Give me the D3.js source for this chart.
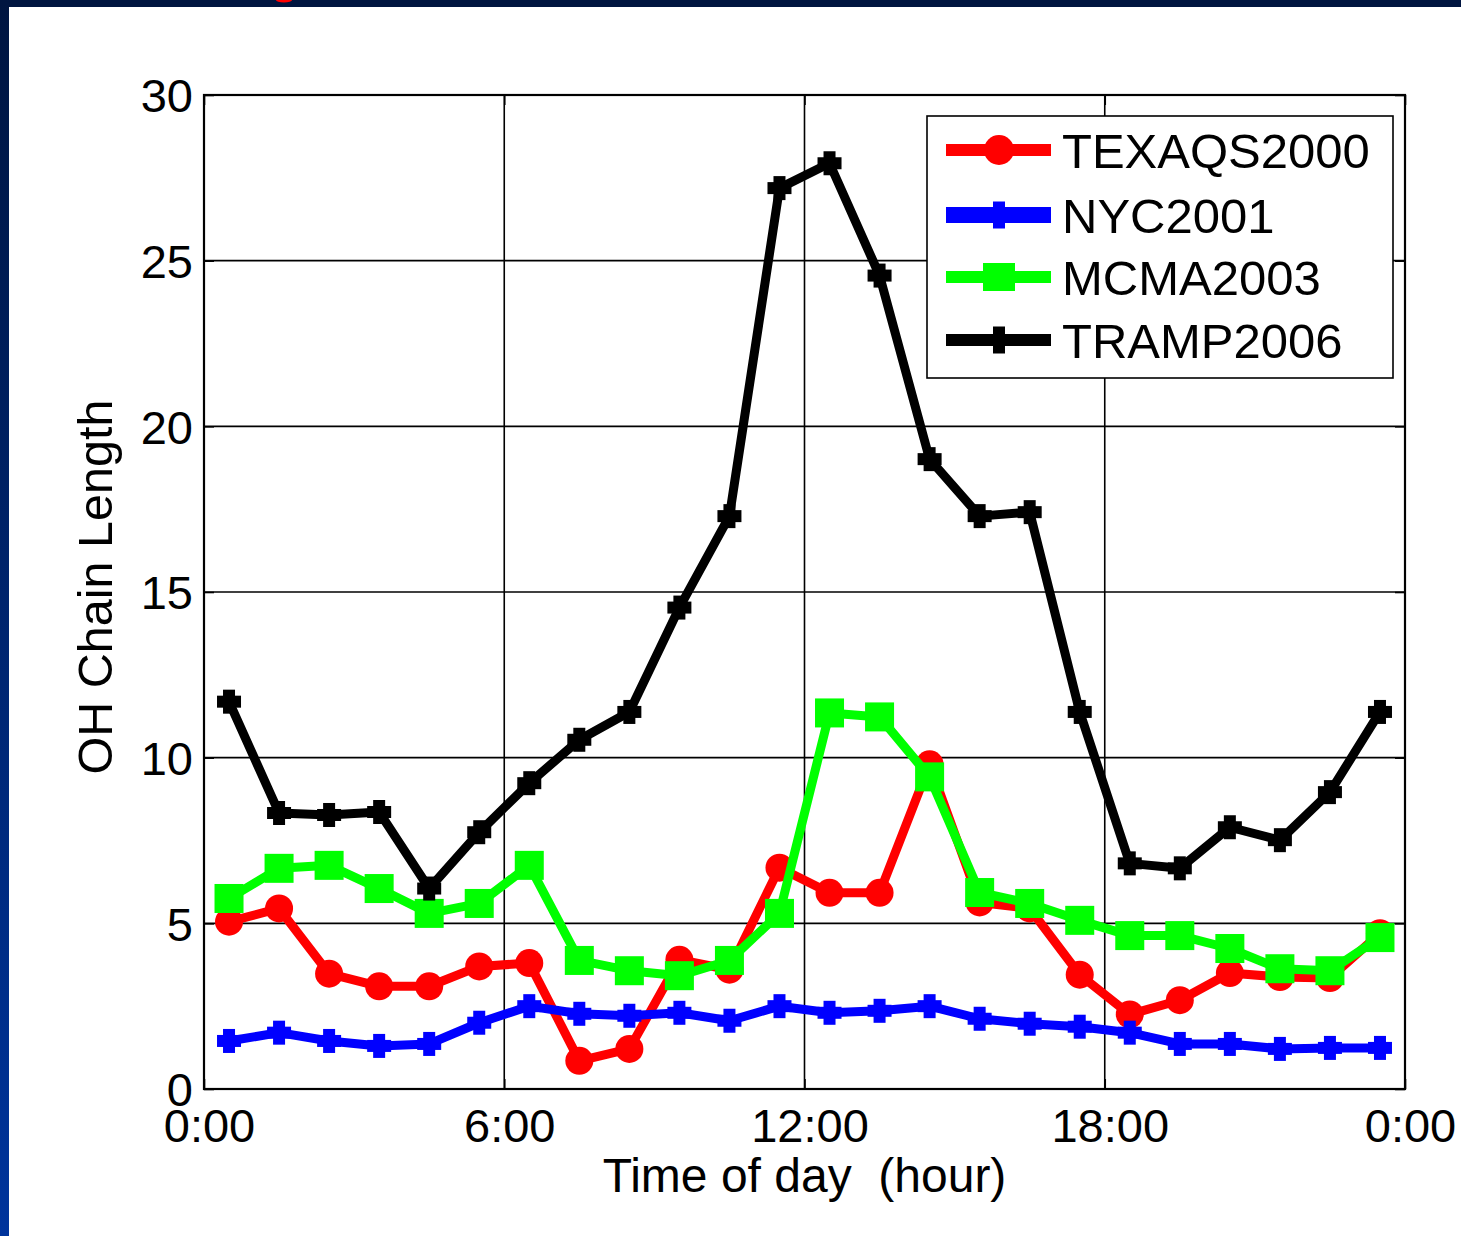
<!DOCTYPE html>
<html>
<head>
<meta charset="utf-8">
<script src="https://cdn.jsdelivr.net/npm/d3@7"></script>
<style>
  body { margin: 0; background: #001540; }
  svg { display: block; }
  text { font-family: "Liberation Sans", Arial, sans-serif; fill: #000; }
</style>
</head>
<body>
<div id="container"></div>
<script>
// half-hour centres of each hourly bin
const hours = [0.5, 1.5, 2.5, 3.5, 4.5, 5.5, 6.5, 7.5, 8.5, 9.5, 10.5, 11.5,
               12.5, 13.5, 14.5, 15.5, 16.5, 17.5, 18.5, 19.5, 20.5, 21.5, 22.5, 23.5]

const texaqs = [5.05, 5.45, 3.48, 3.1, 3.1, 3.7, 3.8, 0.85, 1.21, 3.9, 3.6, 6.68,
                5.92, 5.92, 9.8, 5.63, 5.45, 3.45, 2.25, 2.68, 3.5, 3.38, 3.35, 4.7]
const nyc = [1.45, 1.7, 1.45, 1.3, 1.36, 2.0, 2.5, 2.27, 2.21, 2.3, 2.06, 2.5,
             2.3, 2.36, 2.5, 2.12, 1.97, 1.88, 1.7, 1.36, 1.36, 1.21, 1.24, 1.24]
const mcma = [5.75, 6.66, 6.75, 6.05, 5.3, 5.6, 6.75, 3.88, 3.57, 3.42, 3.88, 5.3,
              11.35, 11.23, 9.42, 5.93, 5.6, 5.09, 4.63, 4.63, 4.24, 3.63, 3.57, 4.57]
const tramp = [11.69, 8.33, 8.27, 8.36, 6.05, 7.75, 9.23, 10.54, 11.38, 14.53, 17.29, 27.19,
               27.94, 24.55, 19.01, 17.29, 17.41, 11.38, 6.81, 6.66, 7.9, 7.51, 8.96, 11.38]

const seriesNames = ['TEXAQS2000', 'NYC2001', 'MCMA2003', 'TRAMP2006']
const xTicks = [0, 6, 12, 18, 24]
const xTickLabels = ['0:00', '6:00', '12:00', '18:00', '0:00']
const yTicks = [0, 5, 10, 15, 20, 25, 30]

const series = [
  {name: seriesNames[0], values: texaqs, color: '#ff0000', marker: 'circle'},
  {name: seriesNames[1], values: nyc, color: '#0000ff', marker: 'plus'},
  {name: seriesNames[2], values: mcma, color: '#00ff00', marker: 'square'},
  {name: seriesNames[3], values: tramp, color: '#000000', marker: 'plus'}
]

const width = 1461
const height = 1236
const margin = {left: 204, right: 56, top: 95, bottom: 147}

const svg = d3.select('#container').append('svg')
  .attr('width', width)
  .attr('height', height)

// slide background + white panel
const defs = svg.append('defs')
const grad = defs.append('linearGradient').attr('id', 'side')
  .attr('x1', 0).attr('y1', 0).attr('x2', 0).attr('y2', 1)
grad.append('stop').attr('offset', '0%').attr('stop-color', '#001540')
grad.append('stop').attr('offset', '100%').attr('stop-color', '#00349c')

svg.append('rect').attr('width', width).attr('height', height).attr('fill', '#001540')
svg.append('rect').attr('width', 9).attr('height', height).attr('fill', 'url(#side)')
svg.append('rect').attr('x', 9).attr('y', 7).attr('width', width - 9).attr('height', height - 7)
  .attr('fill', '#ffffff')
// bit of the red slide title peeking in at the top
svg.append('ellipse').attr('cx', 284).attr('cy', 0).attr('rx', 8).attr('ry', 2.5).attr('fill', '#ff0000')

const x = d3.scaleLinear().domain([0, 24]).range([margin.left, width - margin.right])
const y = d3.scaleLinear().domain([0, 30]).range([height - margin.bottom, margin.top])

// grid
const grid = svg.append('g')
grid.selectAll('.gx').data(xTicks.slice(1, -1)).enter().append('line')
  .attr('x1', d => x(d)).attr('x2', d => x(d))
  .attr('y1', y(0)).attr('y2', y(30))
  .attr('stroke', '#000').attr('stroke-width', 1.6)
grid.selectAll('.gy').data(yTicks.slice(1, -1)).enter().append('line')
  .attr('x1', x(0)).attr('x2', x(24))
  .attr('y1', d => y(d)).attr('y2', d => y(d))
  .attr('stroke', '#000').attr('stroke-width', 1.6)

// axes with inward ticks
const xAxis = d3.axisBottom(x).tickValues(xTicks).tickSizeInner(-10).tickSizeOuter(0)
  .tickPadding(20).tickFormat((d, i) => xTickLabels[i])
const xTop = d3.axisTop(x).tickValues(xTicks).tickSizeInner(-10).tickSizeOuter(0).tickFormat('')
const yAxis = d3.axisLeft(y).tickValues(yTicks).tickSizeInner(-10).tickSizeOuter(0)
  .tickPadding(11).tickFormat(d3.format('d'))
const yRight = d3.axisRight(y).tickValues(yTicks).tickSizeInner(-10).tickSizeOuter(0).tickFormat('')

function styleAxis(g) {
  g.select('.domain').remove()
  g.selectAll('.tick line').attr('stroke', '#000').attr('stroke-width', 1.6)
  g.selectAll('.tick text').attr('font-size', 47)
    .attr('font-family', '"Liberation Sans", Arial, sans-serif').attr('fill', '#000')
}

svg.append('g').attr('transform', `translate(0, ${y(0)})`).call(xAxis).call(styleAxis)
  .selectAll('.tick text').attr('dy', '0.71em').attr('dx', 5)
svg.append('g').attr('transform', `translate(0, ${y(30)})`).call(xTop).call(styleAxis)
svg.append('g').attr('transform', `translate(${x(0)}, 0)`).call(yAxis).call(styleAxis)
  .selectAll('.tick text').attr('dy', '0.36em')
svg.append('g').attr('transform', `translate(${x(24)}, 0)`).call(yRight).call(styleAxis)

// box
svg.append('rect')
  .attr('x', x(0)).attr('y', y(30))
  .attr('width', x(24) - x(0)).attr('height', y(0) - y(30))
  .attr('fill', 'none').attr('stroke', '#000').attr('stroke-width', 2.2)

// markers
function drawMarker(g, type, color, cx, cy, big) {
  if (type === 'circle') {
    g.append('circle').attr('cx', cx).attr('cy', cy).attr('r', big ? 15 : 14).attr('fill', color)
  } else if (type === 'square') {
    const w = big ? 32 : 29, h = big ? 28 : 29
    g.append('rect').attr('x', cx - w / 2).attr('y', cy - h / 2)
      .attr('width', w).attr('height', h).attr('fill', color)
  } else {
    const s = big ? 27 : 24, t = 12
    g.append('rect').attr('x', cx - t / 2).attr('y', cy - s / 2).attr('width', t).attr('height', s).attr('fill', color)
    if (!big) g.append('rect').attr('x', cx - s / 2).attr('y', cy - t / 2).attr('width', s).attr('height', t).attr('fill', color)
  }
}

const line = d3.line().x(d => x(d[0])).y(d => y(d[1]))

series.forEach(s => {
  const pts = hours.map((h, i) => [h, s.values[i]])
  const g = svg.append('g')
  g.append('path').datum(pts)
    .attr('d', line)
    .attr('fill', 'none')
    .attr('stroke', s.color)
    .attr('stroke-width', 9)
    .attr('stroke-linejoin', 'round')
  pts.forEach(p => drawMarker(g, s.marker, s.color, x(p[0]), y(p[1]), false))
})

// legend
const legend = svg.append('g')
legend.append('rect').attr('x', 927).attr('y', 116).attr('width', 466).attr('height', 262)
  .attr('fill', '#fff').attr('stroke', '#000').attr('stroke-width', 1.6)
const rowY = [150, 215, 277, 340]
series.forEach((s, i) => {
  const g = legend.append('g')
  g.append('line').attr('x1', 946).attr('x2', 1051).attr('y1', rowY[i]).attr('y2', rowY[i])
    .attr('stroke', s.color).attr('stroke-width', i === 1 ? 16 : 12)
  drawMarker(g, s.marker, s.color, 999, rowY[i], true)
  g.append('text').attr('x', 1062).attr('y', rowY[i]).attr('dy', '0.36em')
    .attr('font-size', 49).text(s.name)
})

// axis titles
svg.append('text')
  .attr('x', (x(0) + x(24)) / 2).attr('y', 1192)
  .attr('text-anchor', 'middle').attr('font-size', 48)
  .style('white-space', 'pre')
  .text('Time of day  (hour)')

svg.append('text')
  .attr('transform', `translate(112, 587) rotate(-90)`)
  .attr('text-anchor', 'middle').attr('font-size', 48.5)
  .text('OH Chain Length')
</script>
</body>
</html>
